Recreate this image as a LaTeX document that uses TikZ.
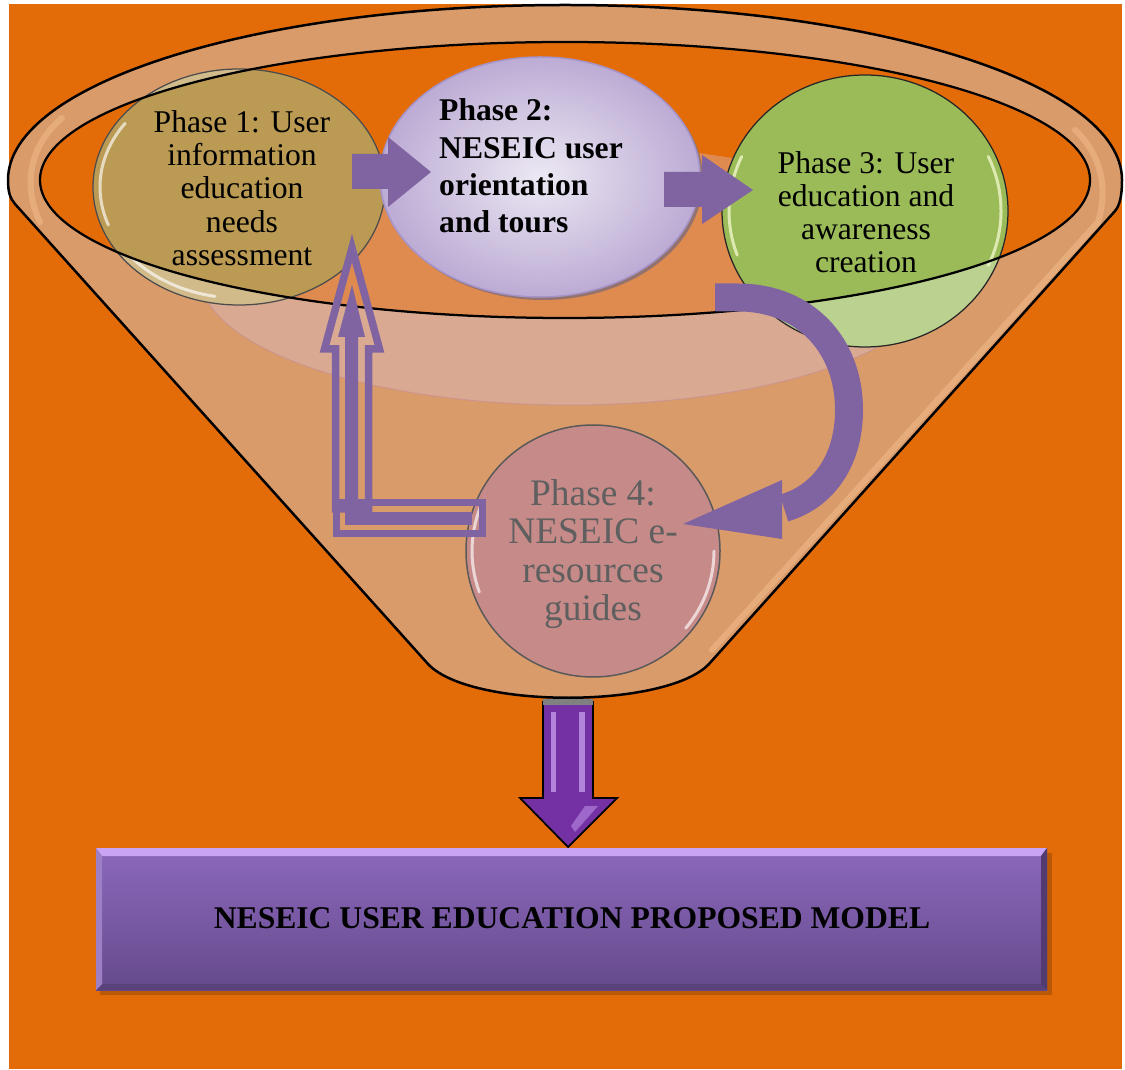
\documentclass[tikz,border=0pt]{standalone}
\usepackage{fontspec}
\setmainfont{Liberation Serif}
\definecolor{bgorange}{HTML}{E36C09}
\definecolor{funneltan}{HTML}{DA9B6A}
\definecolor{rimlight}{HTML}{EDB485}
\definecolor{bandcol}{HTML}{D8CCE4}
\definecolor{bandline}{HTML}{C48C98}
\definecolor{goldc}{HTML}{BB9A53}
\definecolor{greenc}{HTML}{9BBB59}
\definecolor{greenhi}{HTML}{EEF5C8}
\definecolor{rosec}{HTML}{C68B89}
\definecolor{lavlight}{HTML}{ECE8F3}
\definecolor{lavdark}{HTML}{BCABD4}
\definecolor{lavedge}{HTML}{A594C9}
\definecolor{ptwoshadow}{HTML}{94736F}
\definecolor{arrowpurple}{HTML}{8064A2}
\definecolor{deeppurple}{HTML}{7431A4}
\definecolor{purplehi}{HTML}{C9A0F0}
\definecolor{boxtop}{HTML}{8C68BC}
\definecolor{boxbot}{HTML}{654A8C}
\definecolor{boxhi}{HTML}{C9A4F4}
\definecolor{textgray}{HTML}{5F5F5F}
\begin{document}
\begin{tikzpicture}[x=0.02cm,y=-0.02cm,line join=round,
  ptext/.style={font=\fontsize{18}{18.9}\selectfont, align=center, inner sep=0pt, text=black},
  gloss/.style={draw=white, draw opacity=0.65, line width=0.06cm, line cap=round},
  blockarrow/.style={fill=arrowpurple},
  outlinearrow/.style={draw=arrowpurple, line width=0.15cm, line join=miter}]
\useasboundingbox (0,0) rectangle (1125,1070);
\fill[white] (0,0) rectangle (1125,1070);
\fill[bgorange] (9,4) rectangle (1122,1069);

% funnel body
\fill[funneltan] (8,180) .. controls (8,192) and (10,198) .. (15,204) -- (428,664) .. controls (470,709) and (666,709) .. (709,664) -- (1115,211) .. controls (1120,205) and (1122,195) .. (1122,180) arc[start angle=0,end angle=-180,x radius=557,y radius=175] -- cycle;

% rim highlights
\draw[rimlight, line width=0.12cm, opacity=0.7, line cap=round] (62,118) .. controls (30,145) and (22,185) .. (40,222);
\draw[rimlight, line width=0.12cm, opacity=0.7, line cap=round] (1075,130) .. controls (1102,155) and (1108,190) .. (1098,222) -- (712,650);

% opening
\fill[bgorange] (565,180) ellipse[x radius=525,y radius=138];
% translucent band
\fill[bandcol, fill opacity=0.32] (570,275) ellipse[x radius=370,y radius=130];
\draw[bandline, opacity=0.6, line width=0.02cm] (940,275) arc[start angle=0,end angle=180,x radius=370,y radius=130];

% Phase 1 and Phase 3 discs
\fill[goldc] (239,187) ellipse[x radius=146,y radius=118];
\fill[greenc] (865,211) ellipse[x radius=143,y radius=136];
\fill[white, fill opacity=0.33] (239,187) ellipse[x radius=146,y radius=118];
\fill[white, fill opacity=0.33] (865,211) ellipse[x radius=143,y radius=136];
\begin{scope}
  \clip (565,180) ellipse[x radius=525,y radius=138];
  \fill[goldc] (239,187) ellipse[x radius=146,y radius=118];
  \fill[greenc] (865,211) ellipse[x radius=143,y radius=136];
\end{scope}
\draw[gloss] (239,187) ++(160:139 and 111) arc[start angle=160,end angle=215,x radius=139,y radius=111];
\draw[gloss] (239,187) ++(100:139 and 111) arc[start angle=100,end angle=140,x radius=139,y radius=111];
\draw[black!70, line width=0.025cm] (239,187) ellipse[x radius=146,y radius=118];
\draw[gloss, draw=greenhi, draw opacity=0.8] (865,211) ++(160:136 and 129) arc[start angle=160,end angle=205,x radius=136,y radius=129];
\draw[gloss, draw=greenhi, draw opacity=0.8] (865,211) ++(-25:136 and 129) arc[start angle=-25,end angle=25,x radius=136,y radius=129];
\draw[black!85, line width=0.025cm] (865,211) ellipse[x radius=143,y radius=136];

% Phase 2 disc
\fill[ptwoshadow] (543,180) ellipse[x radius=160,y radius=120];
\shade[inner color=lavlight, outer color=lavdark] (540,177) ellipse[x radius=160,y radius=120];
\draw[lavedge, line width=0.03cm] (540,177) ellipse[x radius=160,y radius=120];

% funnel outlines
\draw[black, line width=0.045cm] (565,180) ellipse[x radius=525,y radius=138];
\draw[black, line width=0.05cm] (8,180) .. controls (8,192) and (10,198) .. (15,204) -- (428,664) .. controls (470,709) and (666,709) .. (709,664) -- (1115,211) .. controls (1120,205) and (1122,195) .. (1122,180) arc[start angle=0,end angle=-180,x radius=557,y radius=175] -- cycle;

% Phase 4 disc
\fill[rosec] (593,551) ellipse[x radius=127,y radius=126];
\draw[gloss] (593,551) ++(160:121 and 120) arc[start angle=160,end angle=205,x radius=121,y radius=120];
\draw[gloss] (593,551) ++(0:121 and 120) arc[start angle=0,end angle=40,x radius=121,y radius=120];
\draw[black!65, line width=0.03cm] (593,551) ellipse[x radius=127,y radius=126];

% arrow 1 -> 2
\fill[blockarrow] (352,154) -- (388,154) -- (388,137) -- (431,172) -- (388,207) -- (388,189) -- (352,189) -- cycle;
% arrow 2 -> 3
\fill[blockarrow] (664,172) -- (702,172) -- (702,155) -- (753,190) -- (702,224) -- (702,207) -- (664,207) -- cycle;
% curved arrow 3 -> 4
\draw[arrowpurple, line width=0.56cm] (715,297.5) -- (738,297.5) .. controls (805,297.5) and (849,345) .. (849,410) .. controls (849,462) and (822,497) .. (784,508);
\fill[blockarrow] (782,480) -- (782,539) -- (683,524) -- cycle;
% L-shaped return arrow 4 -> 1
\draw[outlinearrow] (352,248) -- (379.5,349) -- (368.5,349) -- (368.5,509) -- (335.5,509) -- (335.5,349) -- (324.5,349) -- cycle;
\fill[blockarrow] (352,285) -- (365,337) -- (358,337) -- (358,525) -- (345,525) -- (345,337) -- (338,337) -- cycle;
\draw[outlinearrow] (336.7,502.7) rectangle (482.3,533.3);
\fill[blockarrow] (347,512) rectangle (472,525);

% bottom arrow
\fill[deeppurple] (543,702) -- (593,702) -- (593,798) -- (617,798) -- (568,847) -- (520,798) -- (543,798) -- cycle;
\fill[purplehi, opacity=0.75] (551,712) rectangle (556,792);
\fill[purplehi, opacity=0.75] (579,712) rectangle (585,792);
\fill[purplehi, opacity=0.5] (585,806) -- (598,806) -- (575,832) -- (571,826) -- cycle;
\draw[black, line width=0.035cm, line join=miter] (543,702) -- (593,702) -- (593,798) -- (617,798) -- (568,847) -- (520,798) -- (543,798) -- cycle;
\fill[gray] (543,699) rectangle (593,705);

% bottom box
\fill[black!40!bgorange, opacity=0.45] (100,853) rectangle (1052,995);
\shade[top color=boxtop, bottom color=boxbot] (96,848) rectangle (1047,990);
\fill[boxhi] (96,848) -- (1047,848) -- (1041,856) -- (102,856) -- cycle;
\fill[boxbot!80!black] (1047,848) -- (1047,990) -- (1041,984) -- (1041,856) -- cycle;
\fill[boxbot!88!black] (96,990) -- (1047,990) -- (1041,984) -- (102,984) -- cycle;
\fill[boxtop!85!white] (96,848) -- (102,856) -- (102,984) -- (96,990) -- cycle;

% texts
\node[ptext] (p1) at (242,188) {Phase 1: User\\information\\education\\needs\\assessment};
\node[ptext, align=left, font=\fontsize{18}{21.2}\selectfont\bfseries] (p2) at (531,166) {Phase 2:\\NESEIC user\\orientation\\and tours};
\node[ptext] (p3) at (866,212) {Phase 3: User\\education and\\awareness\\creation};
\node[ptext, text=textgray, font=\fontsize{21.3}{21.9}\selectfont] (p4) at (593,554) {Phase 4:\\NESEIC e-\\resources\\guides};
\node[ptext, font=\fontsize{18}{20}\selectfont\bfseries] (model) at (572,918) {NESEIC USER EDUCATION PROPOSED MODEL};
\end{tikzpicture}
\end{document}
